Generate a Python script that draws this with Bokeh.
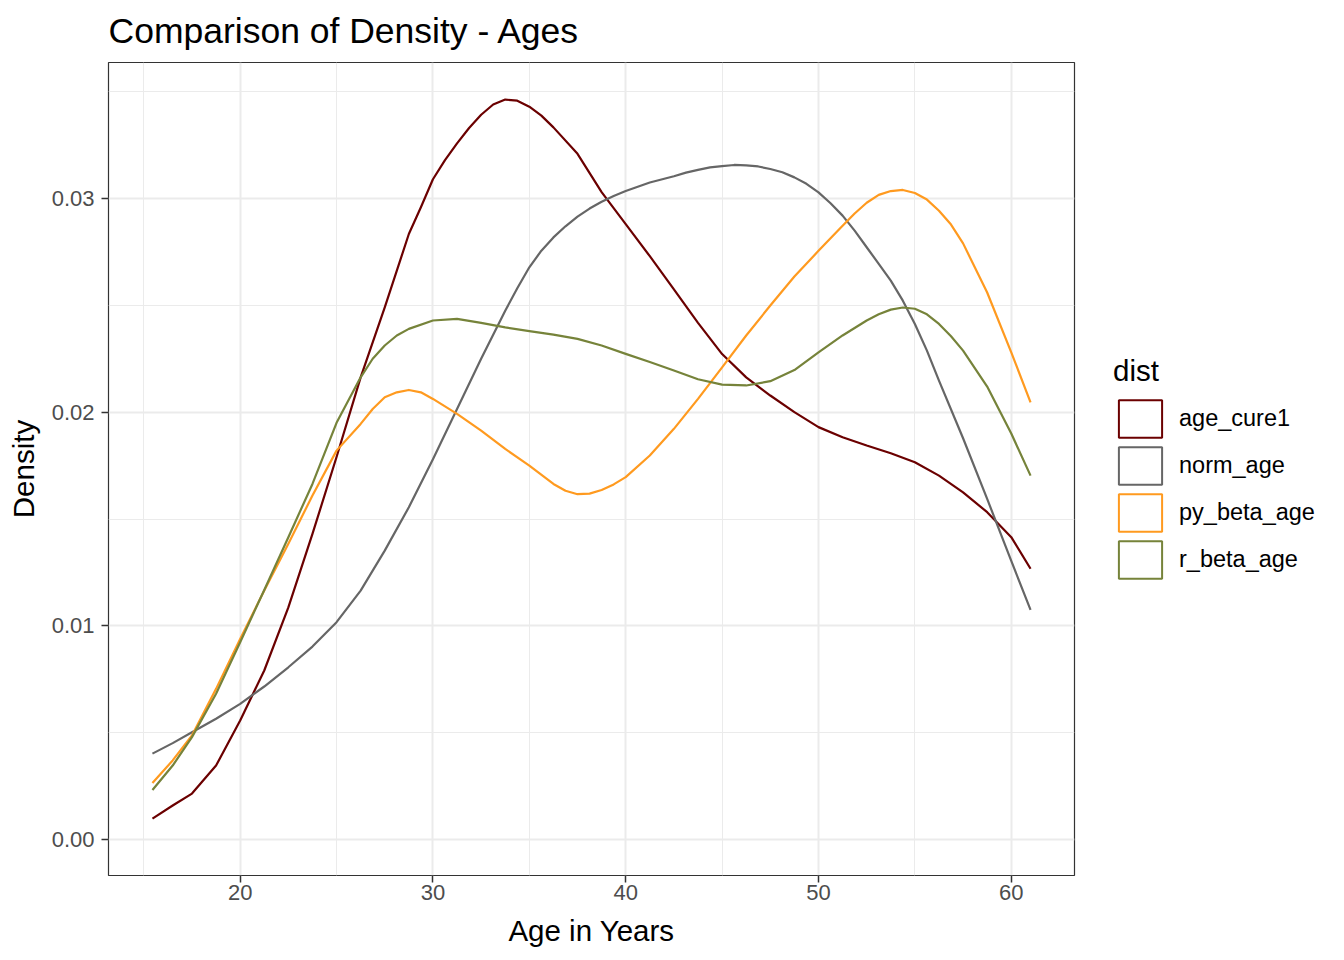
from bokeh.plotting import figure
from bokeh.models import Range1d, FixedTicker, PrintfTickFormatter, Legend, LegendItem
from bokeh.embed import file_html
from bokeh.resources import INLINE

# ---- data ----
age_cure1_x = [15.45, 16.5, 17.5, 18.75, 20, 21.25, 22.5, 23.75, 25, 26.25, 27.5, 28.75,
               29.375, 30, 30.625, 31.25, 31.875, 32.5, 33.125, 33.75, 34.375, 35,
               35.625, 36.25, 37.5, 38.75, 40, 41.25, 42.5, 43.75, 45, 46.25, 47.5,
               48.75, 50, 51.25, 52.5, 53.75, 55, 56.25, 57.5, 58.75, 60, 61]
age_cure1 = [0.00098, 0.00159, 0.00215, 0.00346, 0.00557, 0.00791, 0.01086, 0.0143,
             0.0179, 0.02163, 0.0249, 0.02834, 0.02959, 0.0309, 0.0318, 0.03258,
             0.0333, 0.03392, 0.0344, 0.03463, 0.03458, 0.0343, 0.03388, 0.03333,
             0.03209, 0.0303, 0.0288, 0.0273, 0.02575, 0.02418, 0.02272, 0.02163,
             0.02078, 0.02, 0.0193, 0.01883, 0.01844, 0.01808, 0.01766, 0.01703,
             0.01625, 0.01532, 0.01415, 0.01267]

norm_age_x = [15.45, 16.5, 17.5, 18.75, 20, 21.25, 22.5, 23.75, 25, 26.25, 27.5, 28.75,
              30, 31.25, 32.5, 33.75, 34.375, 35, 35.625, 36.25, 36.875, 37.5, 38.125,
              38.75, 39.375, 40, 41.25, 42.5, 43.125, 43.75, 44.375, 45, 45.625, 46.25,
              46.875, 47.5, 48.125, 48.75, 49.375, 50, 50.625, 51.25, 51.875, 52.5,
              53.125, 53.75, 54.375, 55, 55.625, 56.25, 57.5, 58.75, 60, 61]
norm_age = [0.00402, 0.00451, 0.00502, 0.00565, 0.00635, 0.00716, 0.00806, 0.00903,
            0.01017, 0.01165, 0.01352, 0.01555, 0.0178, 0.02015, 0.0225, 0.02475,
            0.0258, 0.02678, 0.02756, 0.02818, 0.0287, 0.02915, 0.02953, 0.02985,
            0.03012, 0.03035, 0.03075, 0.03104, 0.03121, 0.03134, 0.03146, 0.03152,
            0.03157, 0.03155, 0.0315, 0.03138, 0.03123, 0.03099, 0.03069, 0.03029,
            0.02978, 0.0292, 0.0285, 0.02772, 0.02694, 0.02616, 0.02522, 0.02413,
            0.02288, 0.02148, 0.01878, 0.01594, 0.01304, 0.01075]

py_beta_age_x = [15.45, 16.5, 17.5, 18.75, 20, 21.25, 22.5, 23.75, 25, 26.25, 26.875,
                 27.5, 28.125, 28.75, 29.375, 30, 31.25, 32.5, 33.75, 35, 36.25, 36.875,
                 37.5, 38.125, 38.75, 39.375, 40, 41.25, 42.5, 43.75, 45, 46.25, 47.5,
                 48.75, 50, 51.25, 51.875, 52.5, 53.125, 53.75, 54.375, 55, 55.625,
                 56.25, 56.875, 57.5, 58.75, 60, 61]
py_beta_age = [0.00264, 0.0037, 0.00487, 0.00705, 0.00939, 0.01165, 0.01384, 0.0161,
               0.0182, 0.01945, 0.02015, 0.0207, 0.02093, 0.02104, 0.02093, 0.02062,
               0.01992, 0.01914, 0.01828, 0.0175, 0.01664, 0.01632, 0.01616, 0.01619,
               0.01636, 0.01662, 0.01696, 0.01797, 0.01922, 0.02062, 0.0221, 0.02359,
               0.02499, 0.02635, 0.02755, 0.02873, 0.0293, 0.0298, 0.03017, 0.03035,
               0.0304, 0.03026, 0.02995, 0.02943, 0.02878, 0.0279, 0.0256, 0.0228,
               0.02046]

r_beta_age_x = [15.45, 16.5, 17.5, 18.75, 20, 21.25, 22.5, 23.75, 25, 26.25, 26.875,
                27.5, 28.125, 28.75, 30, 31.25, 32.5, 33.75, 35, 36.25, 37.5, 38.75,
                40, 41.25, 42.5, 43.75, 45, 46.25, 47.5, 48.75, 50, 51.25, 52.5,
                53.125, 53.75, 54.375, 55, 55.625, 56.25, 56.875, 57.5, 58.75, 60, 61]
r_beta_age = [0.00232, 0.00346, 0.00479, 0.00682, 0.00923, 0.01168, 0.01415, 0.01664,
              0.0195, 0.02163, 0.0225, 0.02312, 0.02359, 0.0239, 0.02429, 0.02437,
              0.02418, 0.02397, 0.02379, 0.02363, 0.02343, 0.02312, 0.02273, 0.02235,
              0.02195, 0.02154, 0.02129, 0.02125, 0.02145, 0.02197, 0.0228, 0.02359,
              0.02429, 0.02458, 0.0248, 0.0249, 0.02484, 0.02458, 0.02413, 0.02355,
              0.02288, 0.0212, 0.019, 0.01703]

series_names = ["age_cure1", "norm_age", "py_beta_age", "r_beta_age"]
series_x = [age_cure1_x, norm_age_x, py_beta_age_x, r_beta_age_x]
series_values = [age_cure1, norm_age, py_beta_age, r_beta_age]
series_colors = ["#6B0000", "#666666", "#FF9A1F", "#76833A"]

x_ticks = [20, 30, 40, 50, 60]
x_minor = [15, 25, 35, 45, 55]
y_ticks = [0.0, 0.01, 0.02, 0.03]
y_minor = [0.005, 0.015, 0.025, 0.035]

FONT = "Liberation Sans"

p = figure(frame_width=966, frame_height=813,
           min_border_left=108, min_border_top=62, min_border_bottom=69,
           min_border_right=252,
           x_range=Range1d(13.17, 63.28), y_range=Range1d(-0.001685, 0.036366),
           output_backend="svg", toolbar_location=None,
           title="Comparison of Density - Ages")

p.background_fill_color = "white"
p.border_fill_color = "white"
p.outline_line_color = "#333333"
p.outline_line_width = 1.2

p.title.text_font = FONT
p.title.text_font_size = "35.5px"
p.title.text_font_style = "normal"
p.title.text_color = "black"
p.title.align = "left"
p.title.vertical_align = "top"
p.title.standoff = 19

for ax in (p.xaxis[0], p.yaxis[0]):
    ax.axis_line_color = None
    ax.major_tick_line_color = "#333333"
    ax.major_tick_line_width = 1.5
    ax.major_tick_out = 7
    ax.major_tick_in = 0
    ax.minor_tick_line_color = None
    ax.major_label_text_font = FONT
    ax.major_label_text_font_size = "22px"
    ax.major_label_text_color = "#4D4D4D"
    ax.axis_label_text_font = FONT
    ax.axis_label_text_font_size = "29.5px"
    ax.axis_label_text_font_style = "normal"
    ax.axis_label_text_color = "black"

p.xaxis.ticker = FixedTicker(ticks=x_ticks, minor_ticks=x_minor)
p.yaxis.ticker = FixedTicker(ticks=y_ticks, minor_ticks=y_minor)
p.xaxis.formatter = PrintfTickFormatter(format="%d")
p.yaxis.formatter = PrintfTickFormatter(format="%.2f")
p.xaxis.axis_label = "Age in Years"
p.yaxis.axis_label = "Density"
p.xaxis.major_label_standoff = 2
p.yaxis.major_label_standoff = 7
p.xaxis.axis_label_standoff = 11
p.yaxis.axis_label_standoff = 9

for g in (p.xgrid[0], p.ygrid[0]):
    g.grid_line_color = "#EBEBEB"
    g.grid_line_width = 2
    g.minor_grid_line_color = "#EBEBEB"
    g.minor_grid_line_width = 1

nan = float("nan")
items = []
for name, xs, vals, col in zip(series_names, series_x, series_values, series_colors):
    p.line(xs, vals, line_color=col, line_width=2.2, line_join="round")
    # legend key: an empty (not drawn) outlined box in the series colour
    key = p.quad(left=[nan], right=[nan], top=[nan], bottom=[nan],
                 fill_color="white", fill_alpha=0, line_color=col, line_width=2)
    items.append(LegendItem(label=name, renderers=[key]))

legend = Legend(items=items, location=(39, 292))
legend.title = "dist"
legend.title_text_font = FONT
legend.title_text_font_size = "29.5px"
legend.title_text_font_style = "normal"
legend.title_text_color = "black"
legend.title_standoff = 7
legend.label_text_font = FONT
legend.label_text_font_size = "23.5px"
legend.label_text_color = "black"
legend.glyph_width = 54
legend.glyph_height = 47
legend.label_height = 47
legend.spacing = 0
legend.padding = 0
legend.margin = 0
legend.label_standoff = 12
legend.border_line_color = None
legend.background_fill_alpha = 0
p.add_layout(legend, "right")

open("out.html", "w").write(file_html(p, INLINE))
